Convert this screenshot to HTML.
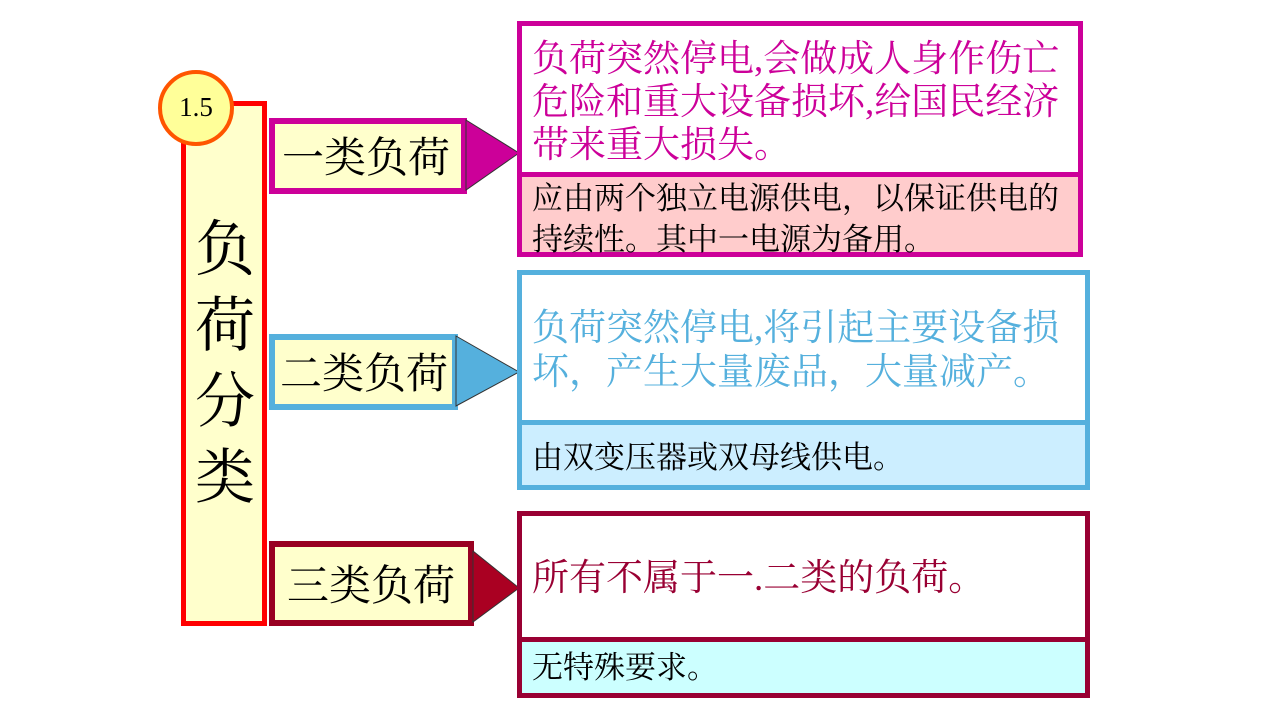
<!DOCTYPE html>
<html><head><meta charset="utf-8"><style>
body{margin:0;width:1280px;height:720px;background:#fff;position:relative;overflow:hidden;font-family:"Liberation Serif","Noto Serif CJK SC",serif;}
.a{position:absolute;box-sizing:border-box;}
.t{position:absolute;white-space:nowrap;}
</style></head><body>
<div class="a" style="left:181px;top:101px;width:86px;height:525px;border:5px solid #ff0000;background:#ffffcc"></div>
<div class="t" style="left:193px;top:212px;font-size:60px;line-height:76px;width:64px;white-space:normal;text-align:center">负荷分类</div>
<div class="a" style="left:158px;top:70px;width:76px;height:76px;border-radius:50%;border:4px solid #ff5500;background:#ffff99"></div>
<div class="t" style="left:158px;top:91px;width:76px;text-align:center;font-size:27px;line-height:32px">1.5</div>

<div class="a" style="left:269px;top:118px;width:198px;height:76px;border:6px solid #cc0099;background:#ffffcc"></div>
<div class="t" style="left:282px;top:134px;font-size:42px;line-height:50px">一类负荷</div>
<div class="a" style="left:269px;top:334px;width:189px;height:76px;border:6px solid #55b0dd;background:#ffffcc"></div>
<div class="t" style="left:280px;top:350px;font-size:42px;line-height:50px">二类负荷</div>
<div class="a" style="left:269px;top:541px;width:205px;height:85px;border:6px solid #990022;background:#ffffcc"></div>
<div class="t" style="left:287px;top:562px;font-size:42px;line-height:50px">三类负荷</div>

<svg class="a" style="left:0;top:0" width="1280" height="720">
<polygon points="466,120 519,153 466,190" fill="#cc0099" stroke="#333" stroke-width="1"/>
<polygon points="456,336 519,372 456,406" fill="#55b0dd" stroke="#333" stroke-width="1"/>
<polygon points="473,551 519,588 473,622" fill="#aa0022" stroke="#333" stroke-width="1"/>
</svg>

<div class="a" style="left:517px;top:21px;width:566px;height:156px;border:5px solid #cc0099;background:#fff"></div>
<div class="a" style="left:517px;top:172px;width:566px;height:85px;border:5px solid #cc0099;background:#ffcccc"></div>
<div class="t" style="left:532px;top:38px;font-size:37px;line-height:43px;color:#cc0099">负荷突然停电,会做成人身作伤亡<br>危险和重大设备损坏,给国民经济<br>带来重大损失。</div>
<div class="t" style="left:532px;top:178px;font-size:31px;line-height:41px">应由两个独立电源供电，以保证供电的<br>持续性。其中一电源为备用。</div>

<div class="a" style="left:517px;top:270px;width:573px;height:155px;border:5px solid #55b0dd;background:#fff"></div>
<div class="a" style="left:517px;top:420px;width:573px;height:70px;border:5px solid #55b0dd;background:#cceeff"></div>
<div class="t" style="left:532px;top:307px;font-size:37px;line-height:44px;color:#55b0dd">负荷突然停电,将引起主要设备损<br>坏，产生大量废品，大量减产。</div>
<div class="t" style="left:532px;top:438px;font-size:31px;line-height:40px">由双变压器或双母线供电。</div>

<div class="a" style="left:517px;top:511px;width:573px;height:131px;border:5px solid #990033;background:#fff"></div>
<div class="a" style="left:517px;top:637px;width:573px;height:61px;border:5px solid #990033;background:#ccffff"></div>
<div class="t" style="left:532px;top:557px;font-size:37px;line-height:44px;color:#990033">所有不属于一.二类的负荷。</div>
<div class="t" style="left:532px;top:648px;font-size:31px;line-height:40px">无特殊要求。</div>
</body></html>
